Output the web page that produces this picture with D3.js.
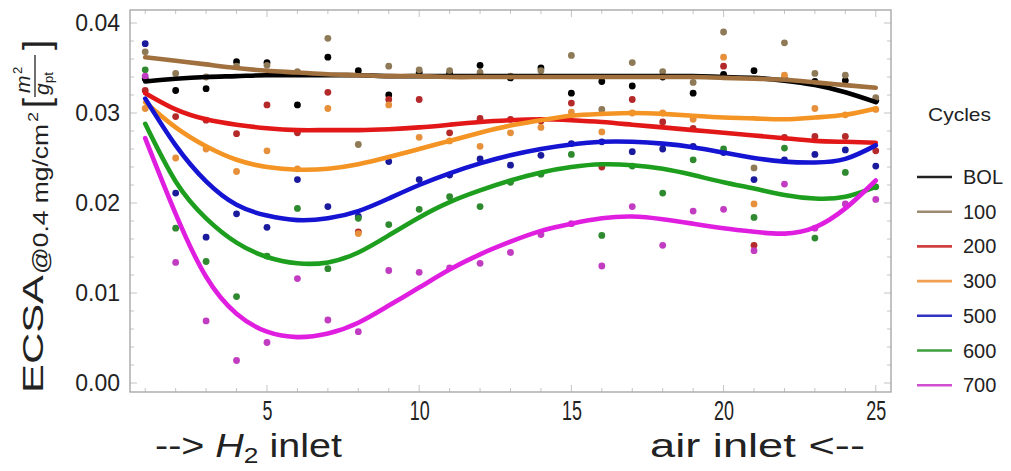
<!DOCTYPE html>
<html>

<head>
    <title>ECSA along the channel</title>
    <meta http-equiv="Content-Type" content="text/html;charset=utf-8" />
    <script src="https://cdn.jsdelivr.net/npm/d3@7/dist/d3.min.js"></script>
    <style>
        body {
            margin: 0;
            background: white;
        }

        text {
            font-family: "Liberation Sans", Arial, sans-serif;
            fill: #222;
        }
    </style>
</head>

<body>
    <svg width="1011" height="471" id="mainsvg"></svg>
    <script>
        // segment index along the channel
        const segments = [1, 2, 3, 4, 5, 6, 7, 8, 9, 10, 11, 12, 13, 14, 15, 16, 17, 18, 19, 20, 21, 22, 23, 24, 25];
        const xTicks = [5, 10, 15, 20, 25];
        const yTicks = [0.00, 0.01, 0.02, 0.03, 0.04];
        const cycles = ['BOL', '100', '200', '300', '500', '600', '700'];

        // measured points
        const bolPts = [0.0338, 0.0325, 0.0327, 0.0357, 0.0356, 0.0309, 0.0362, 0.0347, 0.0320, 0.0345, 0.0344, 0.0353, 0.0339, 0.0350, 0.0322, 0.0335, 0.0330, 0.0340, 0.0322, 0.0343, 0.0347, 0.0338, 0.0335, 0.0336, 0.0314];
        const c100Pts = [0.0368, 0.0344, 0.0340, 0.0352, 0.0353, 0.0346, 0.0383, 0.0265, 0.0352, 0.0348, 0.0347, 0.0345, 0.0341, 0.0347, 0.0364, 0.0304, 0.0356, 0.0346, 0.0334, 0.0390, 0.0239, 0.0378, 0.0344, 0.0342, 0.0317];
        const c200Pts = [0.0325, 0.0296, 0.0292, 0.0277, 0.0309, 0.0278, 0.0323, 0.0168, 0.0315, 0.0315, 0.0278, 0.0294, 0.0293, 0.0291, 0.0311, 0.0240, 0.0315, 0.0290, 0.0283, 0.0352, 0.0153, 0.0273, 0.0274, 0.0274, 0.0258];
        const c300Pts = [0.0305, 0.0250, 0.0260, 0.0235, 0.0258, 0.0238, 0.0305, 0.0166, 0.0309, 0.0273, 0.0269, 0.0263, 0.0278, 0.0284, 0.0301, 0.0279, 0.0300, 0.0300, 0.0293, 0.0362, 0.0199, 0.0342, 0.0305, 0.0298, 0.0304];
        const c500Pts = [0.0377, 0.0211, 0.0162, 0.0188, 0.0173, 0.0226, 0.0196, 0.0185, 0.0246, 0.0226, 0.0231, 0.0249, 0.0242, 0.0253, 0.0266, 0.0268, 0.0257, 0.0260, 0.0263, 0.0256, 0.0226, 0.0248, 0.0254, 0.0259, 0.0241];
        const c600Pts = [0.0348, 0.0172, 0.0135, 0.0096, 0.0141, 0.0194, 0.0127, 0.0183, 0.0176, 0.0193, 0.0207, 0.0196, 0.0223, 0.0232, 0.0254, 0.0164, 0.0241, 0.0211, 0.0248, 0.0260, 0.0184, 0.0261, 0.0161, 0.0234, 0.0218];
        const c700Pts = [0.0341, 0.0134, 0.0069, 0.0025, 0.0045, 0.0116, 0.0070, 0.0057, 0.0125, 0.0123, 0.0128, 0.0133, 0.0145, 0.0165, 0.0177, 0.0130, 0.0196, 0.0153, 0.0191, 0.0193, 0.0147, 0.0221, 0.0172, 0.0199, 0.0204];

        // fitted curves, read at each segment
        const bolFit = [0.0335, 0.0338, 0.0340, 0.0341, 0.0342, 0.0342, 0.0342, 0.0342, 0.0341, 0.0341, 0.0341, 0.0341, 0.0341, 0.0341, 0.0341, 0.0341, 0.0341, 0.0341, 0.0341, 0.0340, 0.0339, 0.0336, 0.0331, 0.0323, 0.0312];
        const c100Fit = [0.0362, 0.0358, 0.0354, 0.0350, 0.0347, 0.0345, 0.0343, 0.0342, 0.0341, 0.0341, 0.0340, 0.0340, 0.0340, 0.0340, 0.0340, 0.0340, 0.0340, 0.0340, 0.0340, 0.0339, 0.0338, 0.0337, 0.0334, 0.0331, 0.0328];
        const c200Fit = [0.0322, 0.0304, 0.0293, 0.0287, 0.0283, 0.0281, 0.0281, 0.0281, 0.0282, 0.0284, 0.0287, 0.0290, 0.0292, 0.0293, 0.0292, 0.0290, 0.0287, 0.0284, 0.0281, 0.0278, 0.0275, 0.0272, 0.0269, 0.0268, 0.0267];
        const c300Fit = [0.0312, 0.0284, 0.0263, 0.0248, 0.0240, 0.0237, 0.0238, 0.0243, 0.0251, 0.0260, 0.0269, 0.0278, 0.0286, 0.0292, 0.0297, 0.0299, 0.0300, 0.0299, 0.0297, 0.0295, 0.0294, 0.0293, 0.0295, 0.0298, 0.0305];
        const c500Fit = [0.0316, 0.0264, 0.0224, 0.0198, 0.0186, 0.0181, 0.0183, 0.0191, 0.0205, 0.0220, 0.0233, 0.0244, 0.0253, 0.0260, 0.0265, 0.0268, 0.0268, 0.0266, 0.0262, 0.0256, 0.0250, 0.0246, 0.0245, 0.0249, 0.0264];
        const c600Fit = [0.0288, 0.0224, 0.0183, 0.0156, 0.0140, 0.0133, 0.0134, 0.0145, 0.0164, 0.0184, 0.0201, 0.0214, 0.0225, 0.0234, 0.0240, 0.0243, 0.0242, 0.0238, 0.0231, 0.0223, 0.0216, 0.0209, 0.0205, 0.0207, 0.0218];
        const c700Fit = [0.0272, 0.0188, 0.0118, 0.0077, 0.0057, 0.0051, 0.0055, 0.0067, 0.0086, 0.0106, 0.0126, 0.0143, 0.0157, 0.0169, 0.0177, 0.0183, 0.0185, 0.0182, 0.0177, 0.0172, 0.0168, 0.0166, 0.0173, 0.0194, 0.0225];

        const lineColors = ['#000000', '#a0703e', '#e21818', '#f39424', '#1414d2', '#1e9e1e', '#e01ee0'];
        const dotColors = ['#000000', '#8f7a58', '#b42a2a', '#e6903c', '#1a1a9c', '#2f8a2f', '#c23cc2'];
        const legendColors = ['#222222', '#9c8b70', '#d04040', '#f0a050', '#3232c0', '#40a040', '#d050d0'];

        const series = cycles.map((c, i) => ({
            name: c,
            pts: [bolPts, c100Pts, c200Pts, c300Pts, c500Pts, c600Pts, c700Pts][i],
            fit: [bolFit, c100Fit, c200Fit, c300Fit, c500Fit, c600Fit, c700Fit][i],
            line: lineColors[i],
            dot: dotColors[i],
            leg: legendColors[i]
        }));

        const svg = d3.select('svg');
        const frame = { left: 130, right: 891, top: 10, bottom: 392 };

        const xScale = d3.scaleLinear().domain([0.5, 25.5]).range([frame.left, frame.right]);
        const yScale = d3.scaleLinear().domain([0, 0.04]).range([383, 23]);

        // ticks inside the frame (minor + major)
        const tickG = svg.append('g').attr('stroke', '#c4c4c4').attr('stroke-width', 1);
        segments.forEach(s => {
            const len = xTicks.includes(s) ? 7 : 4;
            tickG.append('line').attr('x1', xScale(s)).attr('x2', xScale(s))
                .attr('y1', frame.bottom).attr('y2', frame.bottom - len);
            tickG.append('line').attr('x1', xScale(s)).attr('x2', xScale(s))
                .attr('y1', frame.top).attr('y2', frame.top + len);
        });
        d3.range(0, 41, 2).forEach(k => {
            const v = k / 1000;
            const len = k % 10 === 0 ? 7 : 4;
            tickG.append('line').attr('y1', yScale(v)).attr('y2', yScale(v))
                .attr('x1', frame.left).attr('x2', frame.left + len);
            tickG.append('line').attr('y1', yScale(v)).attr('y2', yScale(v))
                .attr('x1', frame.right).attr('x2', frame.right - len);
        });

        // frame
        svg.append('rect')
            .attr('x', frame.left).attr('y', frame.top)
            .attr('width', frame.right - frame.left).attr('height', frame.bottom - frame.top)
            .attr('fill', 'none').attr('stroke', '#a8a8a8').attr('stroke-width', 1.4);

        // axes (labels only)
        const yAxis = d3.axisLeft(yScale).tickValues(yTicks).tickFormat(d3.format('.2f')).tickSize(0).tickPadding(10);
        const yAxisGroup = svg.append('g').attr('transform', `translate(${frame.left}, 0)`).call(yAxis);
        yAxisGroup.select('.domain').remove();
        yAxisGroup.selectAll('text').attr('font-size', '23px').attr('fill', '#222')
            .style('font-family', '"Liberation Sans", Arial, sans-serif');

        const xAxis = d3.axisBottom(xScale).tickValues(xTicks).tickSize(0).tickPadding(8);
        const xAxisGroup = svg.append('g').attr('transform', `translate(0, ${frame.bottom})`).call(xAxis);
        xAxisGroup.select('.domain').remove();
        xAxisGroup.selectAll('text').attr('font-size', '28px').attr('fill', '#222')
            .attr('transform', 'scale(0.64,1)')
            .style('font-family', '"Liberation Sans", Arial, sans-serif');

        // dots then fitted curves
        const plot = svg.append('g');
        series.forEach(s => {
            plot.append('g').selectAll('circle').data(s.pts).enter().append('circle')
                .attr('cx', (d, i) => xScale(segments[i]))
                .attr('cy', d => yScale(d))
                .attr('r', 3.4)
                .attr('fill', s.dot);
        });
        const line = d3.line()
            .x((d, i) => xScale(segments[i]))
            .y(d => yScale(d))
            .curve(d3.curveNatural);
        series.forEach(s => {
            plot.append('path').datum(s.fit)
                .attr('d', line)
                .attr('fill', 'none')
                .attr('stroke', s.line)
                .attr('stroke-width', 4.6)
                .attr('stroke-linecap', 'round');
        });

        // y axis title (rotated)
        const yt = svg.append('g').attr('transform', 'rotate(-90)');
        yt.append('text').attr('x', -393).attr('y', 43).attr('font-size', '30px')
            .attr('textLength', 118).attr('lengthAdjust', 'spacingAndGlyphs').text('ECSA');
        yt.append('text').attr('x', -274).attr('y', 48).attr('font-size', '22px')
            .attr('textLength', 150).attr('lengthAdjust', 'spacingAndGlyphs').text('@0.4 mg/cm');
        yt.append('text').attr('x', -122).attr('y', 38).attr('font-size', '15px')
            .attr('textLength', 10).attr('lengthAdjust', 'spacingAndGlyphs').text('2');
        yt.append('text').attr('x', -108).attr('y', 49).attr('font-size', '36px').text('[');
        yt.append('text').attr('x', -50).attr('y', 49).attr('font-size', '36px').text(']');
        // fraction m^2 / g_pt
        yt.append('text').attr('x', -93).attr('y', 30).attr('font-size', '21px')
            .attr('font-style', 'italic').text('m');
        yt.append('text').attr('x', -74).attr('y', 22).attr('font-size', '13px').text('2');
        yt.append('line').attr('x1', -97).attr('x2', -55).attr('y1', 35).attr('y2', 35)
            .attr('stroke', '#222').attr('stroke-width', 1.3);
        yt.append('text').attr('x', -95).attr('y', 49).attr('font-size', '21px')
            .attr('font-style', 'italic').text('g');
        yt.append('text').attr('x', -83).attr('y', 53).attr('font-size', '13px').text('pt');

        // inlet labels under the axis
        const inH2 = svg.append('text').attr('x', 155).attr('y', 457).attr('font-size', '33px')
            .attr('textLength', 187).attr('lengthAdjust', 'spacingAndGlyphs');
        inH2.append('tspan').text('--> ');
        inH2.append('tspan').attr('font-style', 'italic').text('H');
        inH2.append('tspan').attr('font-size', '22px').attr('dy', 6).text('2');
        inH2.append('tspan').attr('dy', -6).text(' inlet');
        svg.append('text').attr('x', 650).attr('y', 457).attr('font-size', '33px')
            .attr('textLength', 215).attr('lengthAdjust', 'spacingAndGlyphs').text('air inlet <--');

        // legend
        svg.append('text').attr('x', 928).attr('y', 121).attr('font-size', '19px')
            .attr('textLength', 63).attr('lengthAdjust', 'spacingAndGlyphs').text('Cycles');
        const legend = svg.append('g');
        series.forEach((s, i) => {
            const ly = 177 + i * 34.7;
            legend.append('line').attr('x1', 917).attr('x2', 952).attr('y1', ly).attr('y2', ly)
                .attr('stroke', s.leg).attr('stroke-width', 2.6);
            legend.append('text').attr('x', 963).attr('y', ly + 7).attr('font-size', '20px').text(s.name);
        });
    </script>
</body>

</html>
